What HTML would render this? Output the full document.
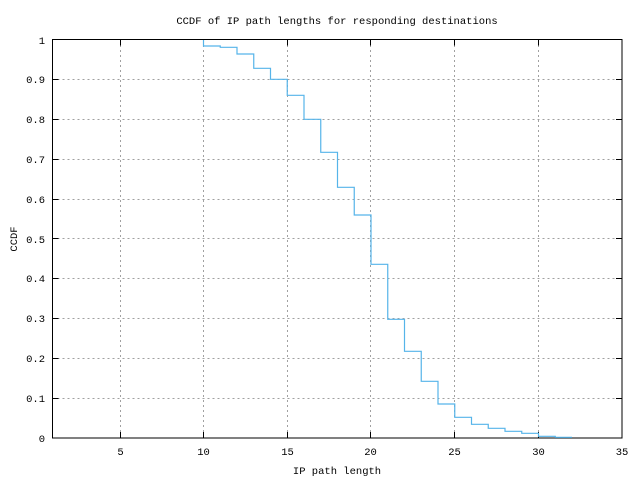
<!DOCTYPE html>
<html><head><meta charset="utf-8"><style>
html,body{margin:0;padding:0;background:#fff;}
svg{display:block;}
text{font-family:"Liberation Mono","DejaVu Sans Mono",monospace;font-size:10.5px;fill:#000;}
</style></head><body>
<svg width="640" height="480" xmlns="http://www.w3.org/2000/svg">
<rect width="640" height="480" fill="#fff"/>
<g stroke="#a0a0a0" stroke-width="1" stroke-dasharray="2,3" fill="none">
<path d="M52.5,398.5H622M52.5,358.5H622M52.5,318.5H622M52.5,278.5H622M52.5,238.5H622M52.5,199.5H622M52.5,159.5H622M52.5,119.5H622M52.5,79.5H622"/>
<path d="M120.5,40V438M203.5,40V438M287.5,40V438M370.5,40V438M454.5,40V438M538.5,40V438"/>
</g>
<g stroke="#000" stroke-width="1" fill="none">
<rect x="52.5" y="39.5" width="569.5" height="398.5"/>
<path d="M52.5,398.5h6M52.5,358.5h6M52.5,318.5h6M52.5,278.5h6M52.5,238.5h6M52.5,199.5h6M52.5,159.5h6M52.5,119.5h6M52.5,79.5h6"/>
<path d="M622,398.5h-6M622,358.5h-6M622,318.5h-6M622,278.5h-6M622,238.5h-6M622,199.5h-6M622,159.5h-6M622,119.5h-6M622,79.5h-6"/>
<path d="M120.5,438v-6M203.5,438v-6M287.5,438v-6M370.5,438v-6M454.5,438v-6M538.5,438v-6"/>
<path d="M120.5,39.5v6M203.5,39.5v6M287.5,39.5v6M370.5,39.5v6M454.5,39.5v6M538.5,39.5v6"/>
</g>
<path fill="none" stroke="#56b4e9" stroke-width="1.2" d="M203.5,40 V46 H220.25 V47.3 H237 V54 H253.75 V68.3 H270.5 V79.3 H287.25 V95.3 H304 V119.3 H320.75 V152.3 H337.5 V187.3 H354.25 V215 H371 V264.3 H387.75 V319.3 H404.5 V351.3 H421.25 V381.3 H438 V404 H454.75 V417.3 H471.5 V424.3 H488.25 V428.3 H505 V431.3 H521.75 V433.3 H538.5 V436.3 H555.25 V437.3 H572"/>
<g text-anchor="end">
<text x="45" y="442">0</text><text x="45" y="402">0.1</text><text x="45" y="362">0.2</text><text x="45" y="322">0.3</text><text x="45" y="282">0.4</text><text x="45" y="243">0.5</text><text x="45" y="203">0.6</text><text x="45" y="163">0.7</text><text x="45" y="123">0.8</text><text x="45" y="83">0.9</text><text x="45" y="44">1</text>
</g>
<g text-anchor="middle">
<text x="120.5" y="455">5</text><text x="203.5" y="455">10</text><text x="287.5" y="455">15</text><text x="370.5" y="455">20</text><text x="454.5" y="455">25</text><text x="538.5" y="455">30</text><text x="622" y="455">35</text>
<text x="337" y="24">CCDF of IP path lengths for responding destinations</text>
<text x="337" y="474">IP path length</text>
<text transform="translate(17,239) rotate(-90)">CCDF</text>
</g>
</svg>
</body></html>
